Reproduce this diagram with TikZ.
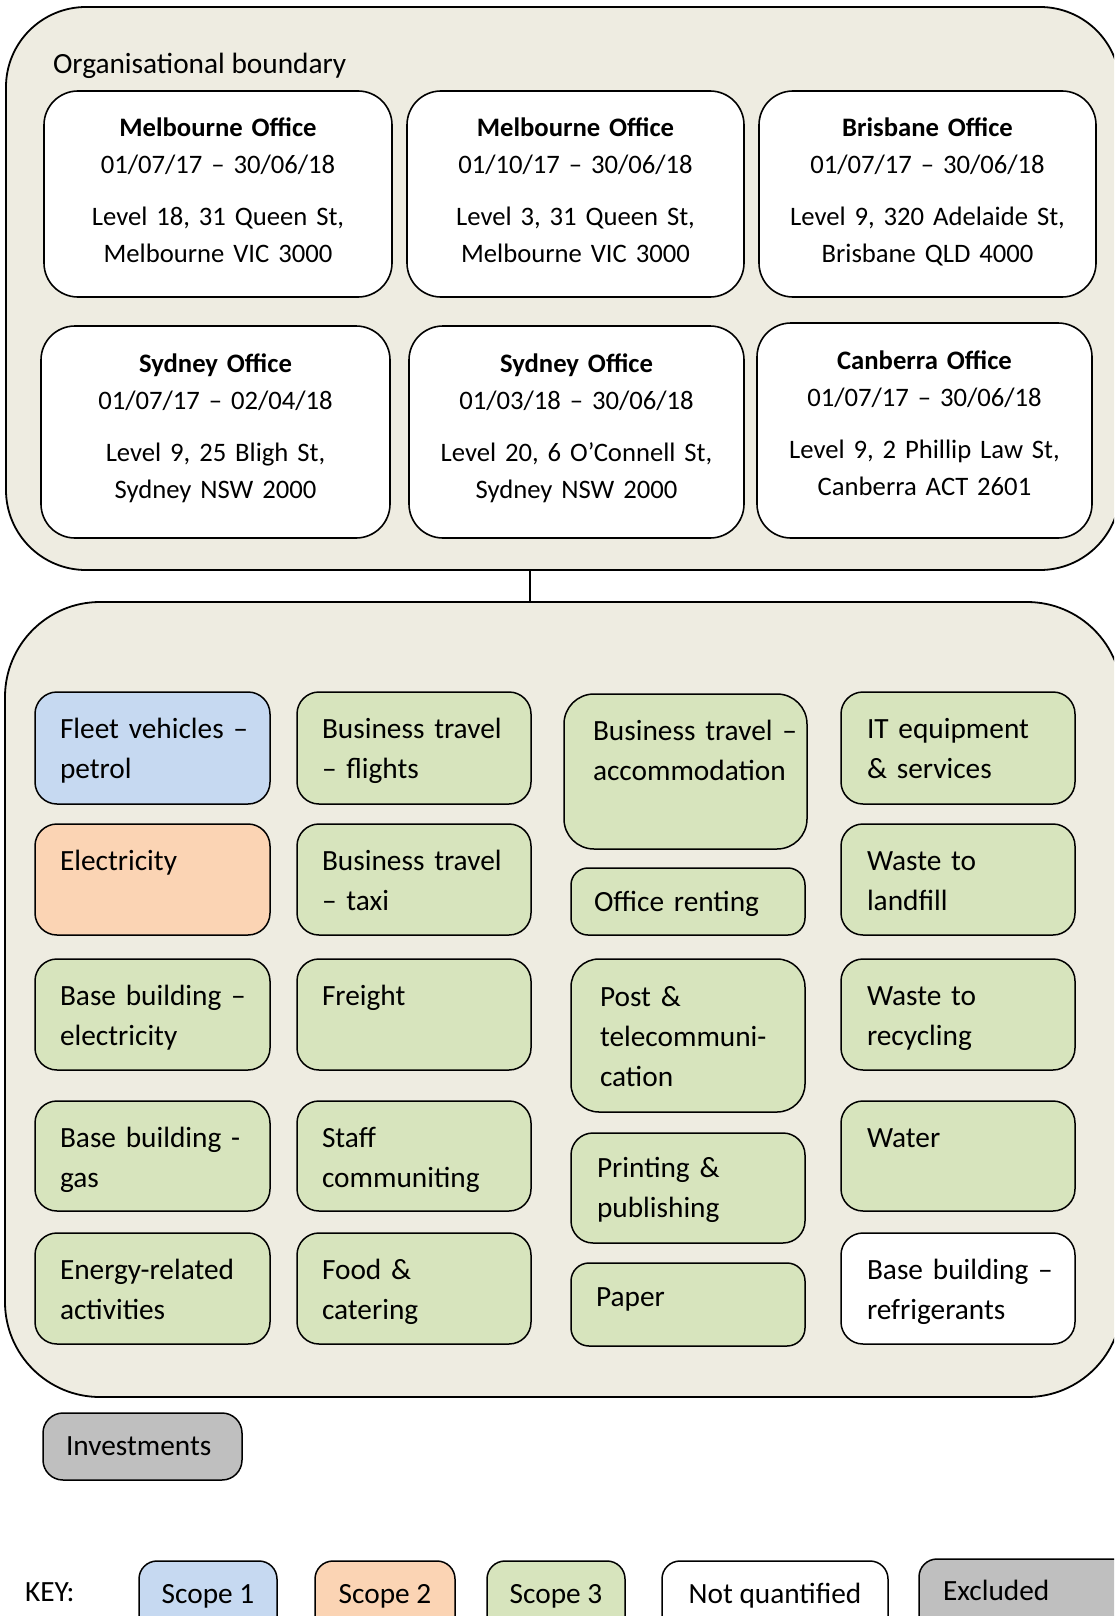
\documentclass[tikz,border=0pt]{standalone}
\usepackage{fontspec}
\setmainfont{Carlito}
\definecolor{tanbg}{HTML}{EEECE1}
\definecolor{sone}{HTML}{C6D9F1}
\definecolor{stwo}{HTML}{FBD4B4}
\definecolor{sthree}{HTML}{D7E4BD}
\definecolor{excl}{HTML}{BFBFBF}
\newcommand\bx[6]{\node[#6, anchor=north west, minimum width=#4pt-#2pt, minimum height=#5pt-#3pt] (#1) at (#2,#3) {};}
\begin{document}
\begin{tikzpicture}[x=1pt,y=-1pt,
  every node/.style={inner sep=0pt, outer sep=0pt},
  outerbox/.style={draw, line width=1.8pt, fill=tanbg, rounded corners=#1},
  officebox/.style={draw, line width=1.6pt, fill=white, rounded corners=34pt},
  itembox/.style={draw, line width=1.5pt, rounded corners=#1},
  itembox/.default=22pt,
  sa/.style={itembox=#1, fill=sone}, sa/.default=22pt,
  sb/.style={itembox=#1, fill=stwo}, sb/.default=22pt,
  sc/.style={itembox=#1, fill=sthree}, sc/.default=22pt,
  nq/.style={itembox=#1, fill=white}, nq/.default=22pt,
  ex/.style={itembox=#1, fill=excl}, ex/.default=20pt,
  itemtxt/.style={anchor=base west, text width=300pt, align=left, font=\fontsize{29.33}{40}\selectfont},
  offtxt/.style={anchor=base, text width=340pt, align=center, font=\fontsize{26.67}{37}\selectfont},
  plaintxt/.style={anchor=base west, font=\fontsize{29.33}{36}\selectfont},
  keytxt/.style={anchor=base, font=\fontsize{29.33}{36}\selectfont},
]
\useasboundingbox (0,0) rectangle (1114,1616);
\clip (0,0) rectangle (1114,1616);

% organisational boundary
\bx{org}{6}{7}{1120}{570}{outerbox=80pt}
\node[plaintxt] (orgt) at ([shift={(47,67)}]org.north west) {Organisational boundary};

\bx{mela}{44}{91}{392}{297}{officebox}
\bx{melb}{407}{91}{744}{297}{officebox}
\bx{bne}{759}{91}{1096}{297}{officebox}
\bx{syda}{41}{326}{390}{538}{officebox}
\bx{sydb}{409}{326}{744}{538}{officebox}
\bx{cbr}{757}{323}{1092}{538}{officebox}

\node[offtxt] (melat) at ([shift={(0,46)}]mela.north) {\textbf{Melbourne Office}\\01/07/17 – 30/06/18\\[15pt]Level 18, 31 Queen St,\\Melbourne VIC 3000};
\node[offtxt] (melbt) at ([shift={(0,46)}]melb.north) {\textbf{Melbourne Office}\\01/10/17 – 30/06/18\\[15pt]Level 3, 31 Queen St,\\Melbourne VIC 3000};
\node[offtxt] (bnet) at ([shift={(0,46)}]bne.north) {\textbf{Brisbane Office}\\01/07/17 – 30/06/18\\[15pt]Level 9, 320 Adelaide St,\\Brisbane QLD 4000};
\node[offtxt] (sydat) at ([shift={(0,46)}]syda.north) {\textbf{Sydney Office}\\01/07/17 – 02/04/18\\[15pt]Level 9, 25 Bligh St,\\Sydney NSW 2000};
\node[offtxt] (sydbt) at ([shift={(0,46)}]sydb.north) {\textbf{Sydney Office}\\01/03/18 – 30/06/18\\[15pt]Level 20, 6 O’Connell St,\\Sydney NSW 2000};
\node[offtxt] (cbrt) at ([shift={(0,46)}]cbr.north) {\textbf{Canberra Office}\\01/07/17 – 30/06/18\\[15pt]Level 9, 2 Phillip Law St,\\Canberra ACT 2601};

% emission sources
\bx{scope}{5}{602}{1122}{1397}{outerbox=95pt}
\coordinate (cx) at (530,0);
\draw[line width=1.4pt] (org.south -| cx) -- (scope.north -| cx);

\bx{fleet}{35}{692}{270}{804}{sa}
\bx{elec}{35}{824}{270}{935}{sb}
\bx{bbe}{35}{959}{270}{1070}{sc}
\bx{bbg}{35}{1101}{270}{1211}{sc}
\bx{era}{35}{1233}{270}{1344}{sc}
\bx{btf}{297}{692}{531}{804}{sc}
\bx{btt}{297}{824}{531}{935}{sc}
\bx{frt}{297}{959}{531}{1070}{sc}
\bx{stf}{297}{1101}{531}{1211}{sc}
\bx{food}{297}{1233}{531}{1344}{sc}
\bx{acc}{564}{694}{807}{849}{sc=30pt}
\bx{rent}{571}{868}{805}{935}{sc=17pt}
\bx{post}{571}{959}{805}{1112}{sc=28pt}
\bx{print}{571}{1133}{805}{1243}{sc}
\bx{paper}{571}{1263}{805}{1346}{sc=18pt}
\bx{it}{841}{692}{1075}{804}{sc}
\bx{wl}{841}{824}{1075}{935}{sc}
\bx{wr}{841}{959}{1075}{1070}{sc}
\bx{water}{841}{1101}{1075}{1211}{sc}
\bx{ref}{841}{1233}{1075}{1344}{nq}

\node[itemtxt] (fleett) at ([shift={(25,46)}]fleet.north west) {Fleet vehicles –\\petrol};
\node[itemtxt] (elect) at ([shift={(25,46)}]elec.north west) {Electricity};
\node[itemtxt] (bbet) at ([shift={(25,46)}]bbe.north west) {Base building –\\electricity};
\node[itemtxt] (bbgt) at ([shift={(25,46)}]bbg.north west) {Base building -\\gas};
\node[itemtxt] (erat) at ([shift={(25,46)}]era.north west) {Energy-related\\activities};
\node[itemtxt] (btft) at ([shift={(25,46)}]btf.north west) {Business travel\\– flights};
\node[itemtxt] (bttt) at ([shift={(25,46)}]btt.north west) {Business travel\\– taxi};
\node[itemtxt] (frtt) at ([shift={(25,46)}]frt.north west) {Freight};
\node[itemtxt] (stft) at ([shift={(25,46)}]stf.north west) {Staff\\communiting};
\node[itemtxt] (foodt) at ([shift={(25,46)}]food.north west) {Food \&\\catering};
\node[itemtxt] (acct) at ([shift={(29,46.5)}]acc.north west) {Business travel –\\accommodation};
\node[itemtxt] (rentt) at ([shift={(23,43.5)}]rent.north west) {Office renting};
\node[itemtxt] (postt) at ([shift={(29,47)}]post.north west) {Post \&\\telecommuni-\\cation};
\node[itemtxt] (printt) at ([shift={(26,44.5)}]print.north west) {Printing \&\\publishing};
\node[itemtxt] (papert) at ([shift={(25,43)}]paper.north west) {Paper};
\node[itemtxt] (itt) at ([shift={(26,46)}]it.north west) {IT equipment\\\& services};
\node[itemtxt] (wlt) at ([shift={(26,46)}]wl.north west) {Waste to\\landfill};
\node[itemtxt] (wrt) at ([shift={(26,46)}]wr.north west) {Waste to\\recycling};
\node[itemtxt] (watert) at ([shift={(26,46)}]water.north west) {Water};
\node[itemtxt] (reft) at ([shift={(26,46)}]ref.north west) {Base building –\\refrigerants};

% excluded
\bx{inv}{43}{1413}{242}{1480}{ex}
\node[plaintxt] (invt) at ([shift={(23,42.5)}]inv.north west) {Investments};

% key
\node[plaintxt] (keyt) at (25,1601) {KEY:};
\bx{ka}{139}{1561}{277}{1640}{sa=18pt}
\bx{kb}{315}{1561}{455}{1640}{sb=18pt}
\bx{kc}{487}{1561}{625}{1640}{sc=18pt}
\bx{kd}{662}{1561}{888}{1640}{nq=18pt}
\bx{ke}{919}{1559}{1140}{1640}{ex=18pt}
\node[keytxt] (kat) at ([shift={(0,42)}]ka.north) {Scope 1};
\node[keytxt] (kbt) at ([shift={(0,42)}]kb.north) {Scope 2};
\node[keytxt] (kct) at ([shift={(0,42)}]kc.north) {Scope 3};
\node[keytxt] (kdt) at ([shift={(0,42)}]kd.north) {Not quantified};
\node[plaintxt] (ket) at ([shift={(24,41)}]ke.north west) {Excluded};
\end{tikzpicture}
\end{document}
